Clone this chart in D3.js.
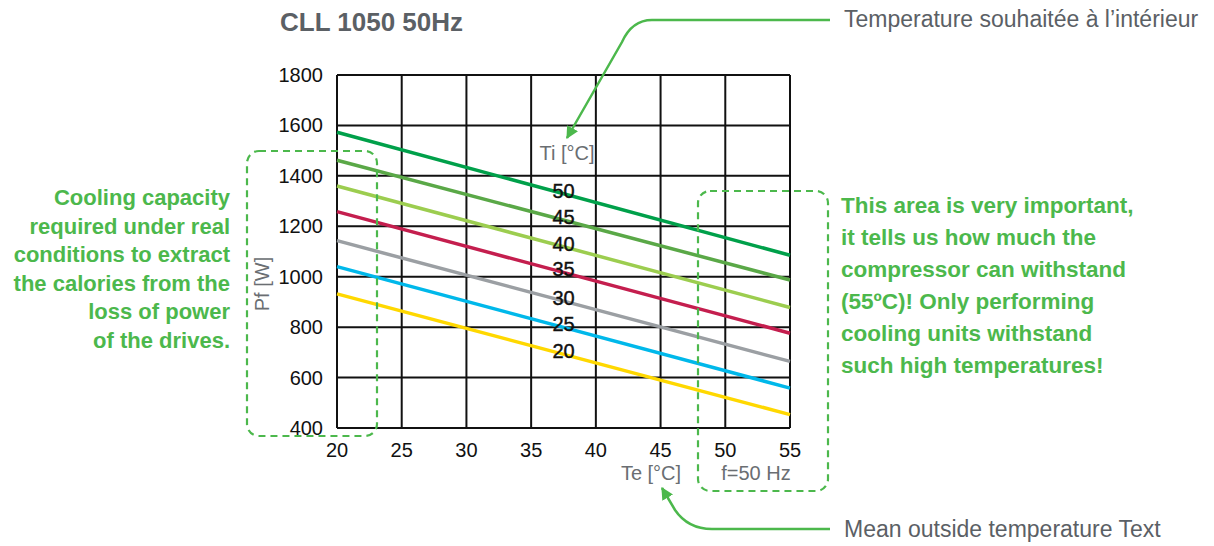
<!DOCTYPE html>
<html>
<head>
<meta charset="utf-8">
<script src="https://cdn.jsdelivr.net/npm/d3@7"></script>
<style>
  body { margin: 0; background: #fff; }
  svg text { font-family: "Liberation Sans", Arial, sans-serif; }
</style>
</head>
<body>
<div class="chart"></div>
<script>
// Ti curves: cooling capacity Pf [W] at Te = 20 and Te = 55
let tiLabels = [50, 45, 40, 35, 30, 25, 20];
let teEnds = [20, 55];
let pfAtStart = [1573, 1462, 1360, 1258, 1143, 1040, 932];
let pfAtEnd = [1085, 987, 878, 776, 664, 558, 453];
let lineColors = ['#00a04a', '#5aa847', '#9ccd4f', '#c41e4e', '#9b9fa3', '#00b8ea', '#ffd800'];
let xTicks = [20, 25, 30, 35, 40, 45, 50, 55];
let yTicks = [400, 600, 800, 1000, 1200, 1400, 1600, 1800];
let leftNote = ['Cooling capacity', 'required under real', 'conditions to extract', 'the calories from the', 'loss of power', 'of the drives.'];
let rightNote = ['This area is very important,', 'it tells us how much the', 'compressor can withstand', '(55ºC)! Only performing', 'cooling units withstand', 'such high temperatures!'];

let width = 1214, height = 546;
let green = '#4cb84c';
let grey = '#5b6065';

let svg = d3.select('.chart').append('svg')
    .attr('width', width)
    .attr('height', height);

// Set the ranges
let x = d3.scaleLinear().domain([20, 55]).range([337, 790]);
let y = d3.scaleLinear().domain([400, 1800]).range([428, 75]);

// grid
svg.append('g').selectAll('line')
    .data(xTicks)
    .enter().append('line')
    .attr('x1', d => x(d)).attr('x2', d => x(d))
    .attr('y1', y(400)).attr('y2', y(1800))
    .attr('stroke', '#111').attr('stroke-width', 2);
svg.append('g').selectAll('line')
    .data(yTicks)
    .enter().append('line')
    .attr('x1', x(20)).attr('x2', x(55))
    .attr('y1', d => y(d)).attr('y2', d => y(d))
    .attr('stroke', '#111').attr('stroke-width', 2);

// tick labels
svg.append('g').selectAll('text')
    .data(yTicks)
    .enter().append('text')
    .attr('x', x(20) - 14)
    .attr('y', d => y(d) + 7)
    .attr('text-anchor', 'end')
    .attr('font-size', 20)
    .attr('fill', '#111')
    .text(d => d);
svg.append('g').selectAll('text')
    .data(xTicks)
    .enter().append('text')
    .attr('x', d => x(d))
    .attr('y', y(400) + 29)
    .attr('text-anchor', 'middle')
    .attr('font-size', 20)
    .attr('fill', '#111')
    .text(d => d);

// the Ti lines
let line = d3.line().x(d => x(d[0])).y(d => y(d[1]));
tiLabels.forEach((t, i) => {
    svg.append('path')
        .attr('d', line([[teEnds[0], pfAtStart[i]], [teEnds[1], pfAtEnd[i]]]))
        .attr('stroke', lineColors[i])
        .attr('stroke-width', 3.5)
        .attr('fill', 'none');
});

// line labels
let labelTe = 37.5;
svg.append('g').selectAll('text')
    .data(tiLabels)
    .enter().append('text')
    .attr('x', x(labelTe))
    .attr('y', (d, i) => {
        let v = pfAtStart[i] + (pfAtEnd[i] - pfAtStart[i]) * (labelTe - 20) / 35;
        return y(v) + 4;
    })
    .attr('text-anchor', 'middle')
    .attr('font-size', 20)
    .attr('fill', '#111')
    .attr('stroke', '#111').attr('stroke-width', 0.4)
    .text(d => d);

// title and axis names
svg.append('text')
    .attr('x', 280).attr('y', 31)
    .attr('font-size', 26).attr('font-weight', 'bold')
    .attr('fill', grey)
    .text('CLL 1050 50Hz');

svg.append('text')
    .attr('x', 567).attr('y', 160)
    .attr('text-anchor', 'middle')
    .attr('font-size', 20).attr('fill', '#6a6e72')
    .text('Ti [°C]');

svg.append('text')
    .attr('text-anchor', 'middle')
    .attr('transform', 'translate(269,284)rotate(-90)')
    .attr('font-size', 20).attr('fill', '#6a6e72')
    .text('Pf [W]');

svg.append('text')
    .attr('x', 651).attr('y', 480)
    .attr('text-anchor', 'middle')
    .attr('font-size', 20).attr('fill', '#6a6e72')
    .text('Te [°C]');

svg.append('text')
    .attr('x', 756).attr('y', 480)
    .attr('text-anchor', 'middle')
    .attr('font-size', 20).attr('fill', '#6a6e72')
    .text('f=50 Hz');

// dashed boxes
svg.append('rect')
    .attr('x', 247).attr('y', 151).attr('width', 130).attr('height', 285)
    .attr('rx', 12)
    .attr('fill', 'none').attr('stroke', green)
    .attr('stroke-width', 2.2).attr('stroke-dasharray', '7,5');
svg.append('rect')
    .attr('x', 698).attr('y', 191).attr('width', 130).attr('height', 300)
    .attr('rx', 12)
    .attr('fill', 'none').attr('stroke', green)
    .attr('stroke-width', 2.2).attr('stroke-dasharray', '7,5');

// green notes
svg.append('g').selectAll('text')
    .data(leftNote)
    .enter().append('text')
    .attr('x', 230)
    .attr('y', (d, i) => 205 + i * 28.6)
    .attr('text-anchor', 'end')
    .attr('font-size', 22).attr('font-weight', 'bold')
    .attr('fill', green)
    .text(d => d);
svg.append('g').selectAll('text')
    .data(rightNote)
    .enter().append('text')
    .attr('x', 841)
    .attr('y', (d, i) => 213 + i * 32)
    .attr('font-size', 22.5).attr('font-weight', 'bold')
    .attr('fill', green)
    .text(d => d);

// callout arrows
let defs = svg.append('defs');
defs.append('marker')
    .attr('id', 'arrow')
    .attr('viewBox', '0 0 10 10')
    .attr('refX', 9).attr('refY', 5)
    .attr('markerWidth', 5).attr('markerHeight', 5)
    .attr('markerUnits', 'strokeWidth')
    .attr('orient', 'auto')
    .append('path')
    .attr('d', 'M0,0 L10,5 L0,10 z')
    .attr('fill', green);

svg.append('path')
    .attr('d', 'M830,20 L652,20 Q632,20 622,42 L567,138')
    .attr('fill', 'none').attr('stroke', green).attr('stroke-width', 2.5)
    .attr('marker-end', 'url(#arrow)');
svg.append('path')
    .attr('d', 'M830,529 L712,529 Q688,529 675,510 L662,488')
    .attr('fill', 'none').attr('stroke', green).attr('stroke-width', 2.5)
    .attr('marker-end', 'url(#arrow)');

svg.append('text')
    .attr('x', 844).attr('y', 27)
    .attr('font-size', 23).attr('fill', grey)
    .text('Temperature souhaitée à l’intérieur');
svg.append('text')
    .attr('x', 844).attr('y', 537)
    .attr('font-size', 23).attr('fill', grey)
    .text('Mean outside temperature Text');
</script>
</body>
</html>
